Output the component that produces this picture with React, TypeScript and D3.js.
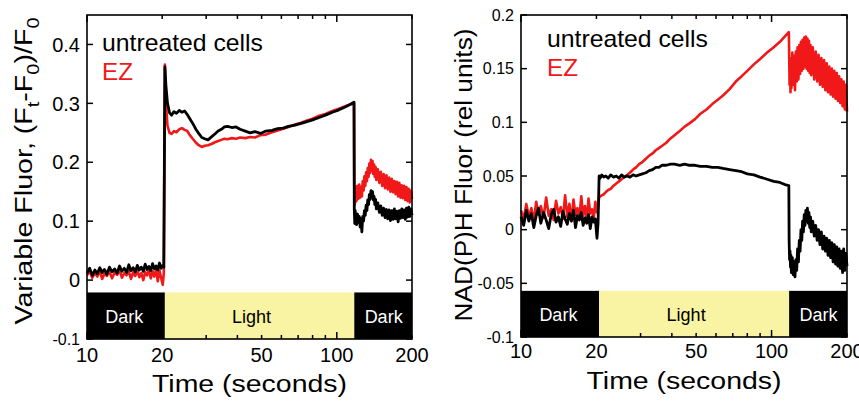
import React from "react";
import * as d3 from "d3";

// ---------- DATA ----------
// sample times (seconds), three phases
const tDark1 = [10, 10.25, 10.5, 10.75, 11, 11.25, 11.5, 11.75, 12, 12.3, 12.6, 12.9, 13.2, 13.5, 13.8, 14.1, 14.4, 14.7, 15, 15.3, 15.6, 15.9, 16.2, 16.5, 16.8, 17.1, 17.4, 17.7, 18, 18.3, 18.6, 18.9, 19.2, 19.5, 19.8, 20.1, 20.3];
const tLight = [20.5, 20.7, 21, 21.4, 21.8, 22.3, 22.8, 23.4, 24, 24.6, 25.2, 25.8, 26.5, 27.2, 28, 28.8, 29.6, 30.5, 31.5, 32.5, 33.5, 34.5, 35.5, 36.5, 38, 39.5, 41, 43, 45, 47, 49.5, 52, 55, 58, 61, 64, 68, 72, 76, 80, 85, 90, 96, 102, 108, 113, 117.2];
const tDark2 = [117.5, 118, 118.5, 119, 119.5, 120, 121, 122, 123, 124, 125, 126, 127, 128, 129, 130, 131, 132, 133, 134, 135, 136, 137, 138, 139, 140, 141, 142, 143, 144, 146, 148, 150, 152, 154, 156, 158, 160, 162, 164, 166, 168, 170, 172, 174, 176, 178, 180, 182, 184, 186, 188, 190, 192, 194, 196, 198, 200];
const times = [...tDark1, ...tLight, ...tDark2];

// Left panel: variable fluorescence
const fvUntreatedDark1 = [0.012, 0.020, 0.008, 0.017, 0.011, 0.021, 0.013, 0.018, 0.010, 0.022, 0.014, 0.019, 0.012, 0.024, 0.015, 0.020, 0.013, 0.026, 0.016, 0.021, 0.014, 0.025, 0.017, 0.022, 0.015, 0.027, 0.018, 0.023, 0.016, 0.028, 0.019, 0.024, 0.017, 0.029, 0.020, 0.025, 0.022];
const fvUntreatedLight = [0.362, 0.330, 0.300, 0.284, 0.280, 0.286, 0.283, 0.288, 0.285, 0.287, 0.281, 0.274, 0.266, 0.257, 0.249, 0.242, 0.240, 0.238, 0.243, 0.248, 0.253, 0.256, 0.260, 0.261, 0.259, 0.260, 0.256, 0.253, 0.250, 0.252, 0.249, 0.253, 0.254, 0.257, 0.258, 0.261, 0.263, 0.266, 0.269, 0.272, 0.276, 0.280, 0.285, 0.289, 0.294, 0.298, 0.302];
const fvUntreatedDark2 = [0.120, 0.096, 0.118, 0.100, 0.113, 0.094, 0.112, 0.098, 0.108, 0.090, 0.104, 0.082, 0.108, 0.100, 0.118, 0.110, 0.127, 0.118, 0.136, 0.128, 0.145, 0.137, 0.152, 0.143, 0.150, 0.136, 0.142, 0.128, 0.137, 0.121, 0.131, 0.115, 0.126, 0.110, 0.122, 0.106, 0.120, 0.104, 0.119, 0.101, 0.118, 0.103, 0.121, 0.104, 0.117, 0.099, 0.118, 0.105, 0.121, 0.106, 0.119, 0.103, 0.122, 0.107, 0.124, 0.108, 0.121, 0.110];
const fvEZDark1 = [0.008, 0.015, 0.004, 0.012, 0.006, 0.016, 0.002, 0.011, 0.007, 0.014, 0.003, 0.013, 0.009, 0.017, 0.004, 0.012, 0.008, 0.015, 0.002, 0.013, 0.007, 0.016, 0.005, 0.012, 0.000, 0.014, 0.008, 0.017, 0.003, 0.015, 0.006, 0.018, -0.002, 0.016, 0.004, -0.008, 0.012];
const fvEZLight = [0.366, 0.300, 0.262, 0.250, 0.248, 0.253, 0.251, 0.256, 0.258, 0.255, 0.253, 0.246, 0.240, 0.234, 0.229, 0.226, 0.228, 0.229, 0.231, 0.234, 0.236, 0.238, 0.240, 0.239, 0.241, 0.240, 0.242, 0.241, 0.243, 0.242, 0.246, 0.247, 0.251, 0.254, 0.257, 0.260, 0.264, 0.267, 0.271, 0.274, 0.279, 0.282, 0.287, 0.291, 0.295, 0.298, 0.300];
const fvEZDark2 = [0.150, 0.128, 0.155, 0.133, 0.158, 0.135, 0.160, 0.138, 0.162, 0.140, 0.158, 0.142, 0.168, 0.152, 0.176, 0.160, 0.183, 0.168, 0.190, 0.175, 0.198, 0.182, 0.204, 0.186, 0.202, 0.180, 0.196, 0.175, 0.192, 0.170, 0.188, 0.165, 0.184, 0.160, 0.180, 0.156, 0.178, 0.154, 0.174, 0.150, 0.172, 0.149, 0.168, 0.146, 0.167, 0.142, 0.165, 0.140, 0.161, 0.139, 0.160, 0.136, 0.158, 0.134, 0.155, 0.132, 0.152, 0.138];

// Right panel: NAD(P)H fluorescence
const nadUntreatedDark1 = [0.012, 0.004, 0.018, 0.008, 0.015, 0.002, 0.013, 0.020, 0.006, 0.016, 0.009, 0.001, 0.014, 0.019, 0.007, 0.012, 0.003, 0.017, 0.010, 0.005, 0.015, 0.008, 0.018, 0.002, 0.013, 0.009, 0.016, 0.004, 0.011, 0.006, 0.014, 0.001, 0.012, 0.007, 0.010, -0.008, 0.006];
const nadUntreatedLight = [0.050, 0.048, 0.051, 0.049, 0.050, 0.048, 0.051, 0.049, 0.050, 0.048, 0.051, 0.049, 0.050, 0.049, 0.051, 0.050, 0.051, 0.052, 0.053, 0.055, 0.056, 0.058, 0.058, 0.060, 0.060, 0.061, 0.061, 0.060, 0.061, 0.060, 0.060, 0.059, 0.059, 0.058, 0.058, 0.057, 0.056, 0.055, 0.054, 0.052, 0.051, 0.049, 0.047, 0.045, 0.044, 0.042, 0.041];
const nadUntreatedDark2 = [-0.010, -0.028, -0.020, -0.035, -0.024, -0.040, -0.026, -0.042, -0.030, -0.044, -0.028, -0.038, -0.018, -0.030, -0.010, -0.020, 0.000, -0.010, 0.008, -0.002, 0.014, 0.004, 0.018, 0.008, 0.020, 0.006, 0.016, 0.002, 0.012, -0.002, 0.008, -0.006, 0.004, -0.010, 0.000, -0.014, -0.002, -0.018, -0.006, -0.020, -0.008, -0.024, -0.010, -0.026, -0.012, -0.030, -0.014, -0.032, -0.016, -0.034, -0.018, -0.036, -0.020, -0.040, -0.018, -0.038, -0.022, -0.034];
const nadEZDark1 = [0.018, 0.010, 0.024, 0.012, 0.020, 0.008, 0.026, 0.014, 0.022, 0.011, 0.030, 0.013, 0.019, 0.009, 0.027, 0.015, 0.021, 0.010, 0.032, 0.012, 0.024, 0.008, 0.028, 0.014, 0.020, 0.011, 0.031, 0.013, 0.022, 0.009, 0.029, 0.015, 0.019, 0.010, 0.026, 0.016, 0.020];
const nadEZLight = [0.030, 0.031, 0.032, 0.033, 0.035, 0.037, 0.038, 0.041, 0.043, 0.045, 0.047, 0.049, 0.051, 0.053, 0.056, 0.058, 0.061, 0.063, 0.066, 0.069, 0.071, 0.074, 0.076, 0.078, 0.081, 0.085, 0.088, 0.092, 0.096, 0.099, 0.103, 0.108, 0.112, 0.117, 0.121, 0.125, 0.131, 0.138, 0.143, 0.148, 0.154, 0.159, 0.165, 0.170, 0.175, 0.180, 0.184];
const nadEZDark2 = [0.168, 0.135, 0.160, 0.128, 0.158, 0.132, 0.165, 0.135, 0.162, 0.130, 0.166, 0.138, 0.170, 0.140, 0.172, 0.145, 0.175, 0.148, 0.177, 0.150, 0.179, 0.152, 0.180, 0.150, 0.178, 0.148, 0.176, 0.146, 0.172, 0.144, 0.170, 0.140, 0.166, 0.138, 0.163, 0.135, 0.160, 0.133, 0.158, 0.130, 0.155, 0.128, 0.152, 0.126, 0.150, 0.124, 0.148, 0.122, 0.146, 0.120, 0.143, 0.118, 0.140, 0.115, 0.138, 0.112, 0.135, 0.110];

const fvUntreated = [...fvUntreatedDark1, ...fvUntreatedLight, ...fvUntreatedDark2];
const fvEZ = [...fvEZDark1, ...fvEZLight, ...fvEZDark2];
const nadUntreated = [...nadUntreatedDark1, ...nadUntreatedLight, ...nadUntreatedDark2];
const nadEZ = [...nadEZDark1, ...nadEZLight, ...nadEZDark2];

const seriesNames = ["untreated cells", "EZ"];

// phase bar: start, end, label, label anchor time
const phaseStart = [10, 20.5, 117.5];
const phaseEnd = [20.5, 117.5, 200];
const phaseLabels = ["Dark", "Light", "Dark"];
const phaseLabelAt = [14.1, 45.6, 154];

const xTickValues = [10, 20, 50, 100, 200];
const xTickLabels = ["10", "20", "50", "100", "200"];
const xMinorTicks = [20, 30, 40, 50, 60, 70, 80, 90, 200];
const xMajorTicks = [10, 100];

const fvYTicks = [0.4, 0.3, 0.2, 0.1, 0, -0.1];
const fvYTickLabels = ["0.4", "0.3", "0.2", "0.1", "0", "-0.1"];
const nadYTicks = [0.2, 0.15, 0.1, 0.05, 0, -0.05, -0.1];
const nadYTickLabels = ["0.2", "0.15", "0.1", "0.05", "0", "-0.05", "-0.1"];

// ---------- STYLE ----------
const FONT = "'Liberation Sans', Arial, Helvetica, sans-serif";
const RED = "#f01818";
const BLACK = "#000";
const YELLOW = "#f9f3a4";

type PanelProps = {
  left: number; right: number; top: number; bottom: number;
  yDomain: [number, number];
  yTicks: number[]; yTickLabels: string[]; yTickFont: number; smallLast?: boolean;
  barTop: number;
  black: number[]; red: number[];
  legendX: number; legendY: number;
  xTickBase: number; xTitleBase: number;
  yLabel: React.ReactNode;
};

function Panel(p: PanelProps) {
  const x = d3.scaleLog().domain([10, 200]).range([p.left, p.right]);
  const y = d3.scaleLinear().domain(p.yDomain).range([p.bottom, p.top]);
  const line = d3.line<number>().x((_, i) => x(times[i])).y((d) => y(d));
  const barY = y(p.barTop);
  const barMid = (barY + p.bottom) / 2;
  const cx = (p.left + p.right) / 2;
  return (
    <g>
      {phaseStart.map((s, i) => (
        <rect key={"ph" + i} x={x(s)} y={barY} width={x(phaseEnd[i]) - x(s)} height={p.bottom - barY}
          fill={phaseLabels[i] === "Dark" ? "#000" : YELLOW} />
      ))}
      {phaseLabels.map((l, i) => (
        <text key={"pl" + i} x={x(phaseLabelAt[i])} y={barMid + 7} textAnchor="middle" fontSize={18}
          fontFamily={FONT} fill={l === "Dark" ? "#fff" : "#000"}>{l}</text>
      ))}
      <path d={line(p.red) || ""} fill="none" stroke={RED} strokeWidth={2.6} strokeLinejoin="round" />
      <path d={line(p.black) || ""} fill="none" stroke={BLACK} strokeWidth={2.8} strokeLinejoin="round" />
      {/* ticks */}
      {xMinorTicks.map((t, i) => (
        <g key={"mt" + i}>
          <line x1={x(t)} x2={x(t)} y1={p.top} y2={p.top + 4} stroke="#000" strokeWidth={1.5} />
          <line x1={x(t)} x2={x(t)} y1={p.bottom} y2={p.bottom - 4} stroke="#000" strokeWidth={1.5} />
        </g>
      ))}
      {xMajorTicks.map((t, i) => (
        <g key={"Mt" + i}>
          <line x1={x(t)} x2={x(t)} y1={p.top} y2={p.top + 7} stroke="#000" strokeWidth={1.5} />
          <line x1={x(t)} x2={x(t)} y1={p.bottom} y2={p.bottom - 7} stroke="#000" strokeWidth={1.5} />
        </g>
      ))}
      {p.yTicks.map((t, i) => (
        <g key={"yt" + i}>
          <line x1={p.left} x2={p.left + 6} y1={y(t)} y2={y(t)} stroke="#000" strokeWidth={1.5} />
          <line x1={p.right} x2={p.right - 6} y1={y(t)} y2={y(t)} stroke="#000" strokeWidth={1.5} />
          <text x={p.left - 7} y={y(t)} dy="0.36em" textAnchor="end" fontFamily={FONT}
            fontSize={p.smallLast && i === p.yTicks.length - 1 ? 16 : p.yTickFont}>{p.yTickLabels[i]}</text>
        </g>
      ))}
      <rect x={p.left} y={p.top} width={p.right - p.left} height={p.bottom - p.top} fill="none" stroke="#000" strokeWidth={1.6} />
      {xTickValues.map((t, i) => (
        <text key={"xl" + i} x={x(t)} y={p.xTickBase} textAnchor="middle" fontFamily={FONT} fontSize={20}>{xTickLabels[i]}</text>
      ))}
      <text x={cx} y={p.xTitleBase} textAnchor="middle" fontFamily={FONT} fontSize={23} textLength={195} lengthAdjust="spacingAndGlyphs">Time (seconds)</text>
      <text x={p.legendX} y={p.legendY} fontFamily={FONT} fontSize={24} fill={BLACK} textLength={161} lengthAdjust="spacingAndGlyphs">{seriesNames[0]}</text>
      <text x={p.legendX} y={p.legendY + 29} fontFamily={FONT} fontSize={24} fill={RED} textLength={31} lengthAdjust="spacingAndGlyphs">{seriesNames[1]}</text>
      {p.yLabel}
    </g>
  );
}

export default function App() {
  const subStyle = { fontSize: 16 } as const;
  return (
    <svg width={859} height={404} viewBox="0 0 859 404" style={{ position: "absolute", left: 0, top: 0, background: "#fff" }}>
      <rect x={0} y={0} width={859} height={404} fill="#fff" />
      <Panel left={87} right={412} top={15} bottom={339} yDomain={[-0.1, 0.45]}
        yTicks={fvYTicks} yTickLabels={fvYTickLabels} yTickFont={20} smallLast
        barTop={-0.021} black={fvUntreated} red={fvEZ}
        legendX={102} legendY={51} xTickBase={362} xTitleBase={392}
        yLabel={
          <text transform="translate(32,171) rotate(-90)" textAnchor="middle" fontFamily={FONT} fontSize={23}
            textLength={307} lengthAdjust="spacingAndGlyphs">
            Variable Fluor, (F<tspan dy={7} style={subStyle}>t</tspan><tspan dy={-7}>-F</tspan><tspan dy={7} style={subStyle}>0</tspan><tspan dy={-7}>)/F</tspan><tspan dy={7} style={subStyle}>0</tspan>
          </text>
        } />
      <Panel left={521} right={847} top={15} bottom={337} yDomain={[-0.1, 0.2]}
        yTicks={nadYTicks} yTickLabels={nadYTickLabels} yTickFont={16}
        barTop={-0.057} black={nadUntreated} red={nadEZ}
        legendX={547} legendY={47} xTickBase={358} xTitleBase={389}
        yLabel={
          <text transform="translate(472,175) rotate(-90)" textAnchor="middle" fontFamily={FONT} fontSize={23}
            textLength={293} lengthAdjust="spacingAndGlyphs">NAD(P)H Fluor (rel units)</text>
        } />
    </svg>
  );
}
